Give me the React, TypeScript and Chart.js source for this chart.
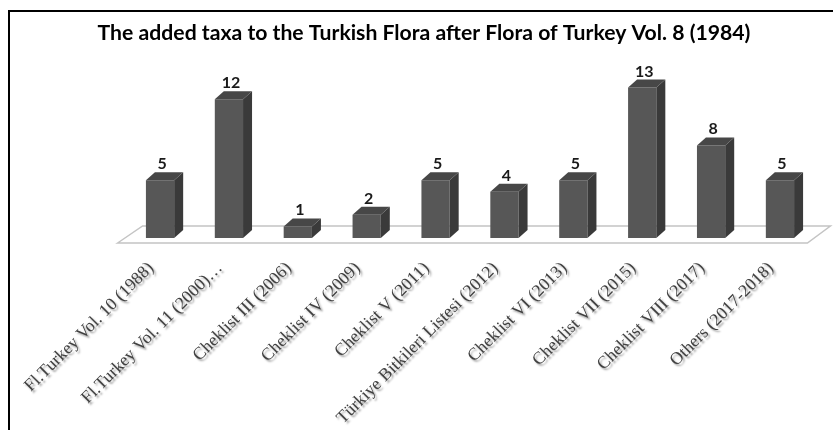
import React, { useEffect, useRef } from "react";
import { Chart, registerables } from "chart.js";

Chart.register(...registerables);

const titleText = "The added taxa to the Turkish Flora after Flora of Turkey Vol. 8 (1984)";
const categories = [
  "Fl.Turkey Vol. 10 (1988)",
  "Fl.Turkey Vol. 11 (2000)…",
  "Cheklist III (2006)",
  "Cheklist IV (2009)",
  "Cheklist V (2011)",
  "Türkiye Bitkileri Listesi (2012)",
  "Cheklist VI (2013)",
  "Cheklist VII (2015)",
  "Cheklist VIII (2017)",
  "Others (2017-2018)",
];
const addedTaxa = [5, 12, 1, 2, 5, 4, 5, 13, 8, 5];

const DX = 9;
const DY = -8;

const bar3d = {
  id: "bar3d",
  beforeDraw(chart: any) {
    const s = chart.scales.x;
    if (s && !s.__shadowPatched) {
      const orig = s.drawLabels.bind(s);
      s.drawLabels = (area: any) => {
        const c = chart.ctx;
        c.save();
        c.translate(-9, 0);
        c.shadowColor = "rgba(0,0,0,0.4)";
        c.shadowOffsetX = 2;
        c.shadowOffsetY = 2;
        c.shadowBlur = 2;
        orig(area);
        c.restore();
      };
      s.__shadowPatched = true;
    }
  },
  beforeDatasetsDraw(chart: any) {
    const ctx = chart.ctx;
    const { left, right } = chart.chartArea;
    const y0 = chart.scales.y.getPixelForValue(0);
    ctx.save();
    ctx.beginPath();
    ctx.moveTo(left - 8, y0 + 5);
    ctx.lineTo(left + 17, y0 - 12);
    ctx.lineTo(right + 16, y0 - 12);
    ctx.lineTo(right - 7, y0 + 5);
    ctx.closePath();
    ctx.fillStyle = "#ffffff";
    ctx.fill();
    ctx.strokeStyle = "#c4c4c4";
    ctx.lineWidth = 1.5;
    ctx.stroke();
    ctx.restore();
  },
  afterDatasetsDraw(chart: any) {
    const ctx = chart.ctx;
    const meta = chart.getDatasetMeta(0);
    const data = chart.data.datasets[0].data;
    ctx.save();
    meta.data.forEach((bar: any, i: number) => {
      const l = bar.x - bar.width / 2;
      const r = bar.x + bar.width / 2;
      const top = bar.y;
      const base = bar.base;
      ctx.beginPath();
      ctx.moveTo(r, top);
      ctx.lineTo(r + DX, top + DY);
      ctx.lineTo(r + DX, base + DY);
      ctx.lineTo(r, base);
      ctx.closePath();
      ctx.fillStyle = "#3a3a3a";
      ctx.fill();
      ctx.beginPath();
      ctx.moveTo(l, top);
      ctx.lineTo(l + DX, top + DY);
      ctx.lineTo(r + DX, top + DY);
      ctx.lineTo(r, top);
      ctx.closePath();
      ctx.fillStyle = "#474747";
      ctx.fill();
      ctx.fillStyle = "#1a1a1a";
      ctx.font = "bold 16px Lato, 'Liberation Sans', sans-serif";
      ctx.textAlign = "center";
      ctx.textBaseline = "alphabetic";
      ctx.fillText(String(data[i]), bar.x + 2, top + DY - 3);
    });
    ctx.restore();
  },
};

export default function App() {
  const ref = useRef<HTMLCanvasElement | null>(null);
  useEffect(() => {
    if (!ref.current) return;
    const chart = new Chart(ref.current, {
      type: "bar",
      data: {
        labels: categories,
        datasets: [
          {
            data: addedTaxa,
            backgroundColor: "#575757",
            borderWidth: 0,
            barPercentage: 0.41,
            categoryPercentage: 1,
            yAxisID: "y",
          },
        ],
      },
      options: {
        animation: false,
        responsive: false,
        layout: { padding: { left: 15, right: 0, top: 0, bottom: 0 } },
        plugins: {
          legend: { display: false },
          tooltip: { enabled: false },
          title: {
            display: true,
            text: titleText,
            color: "#000",
            font: { family: "Lato, 'Liberation Sans', sans-serif", size: 21.2, weight: "bold" },
            padding: { top: 20.3, bottom: 30.3 },
          },
        },
        scales: {
          x: {
            grid: { display: false, drawTicks: false },
            border: { display: false },
            ticks: {
              autoSkip: false,
              maxRotation: 45,
              minRotation: 45,
              padding: 20,
              color: "#404040",
              font: { family: "'Liberation Serif', 'Times New Roman', serif", size: 17.5 },
            },
            afterFit: (s: any) => {
              s.height = 192;
            },
          },
          y: {
            position: "left",
            min: 0,
            max: 14,
            grid: { display: false, drawTicks: false },
            border: { display: false },
            ticks: { display: false },
            afterFit: (s: any) => {
              s.width = 110.6;
            },
          },
          y2: {
            position: "right",
            min: 0,
            max: 1,
            grid: { display: false, drawTicks: false },
            border: { display: false },
            ticks: { display: false },
            afterFit: (s: any) => {
              s.width = 18.6;
            },
          },
        },
      },
      plugins: [bar3d],
    } as any);
    return () => chart.destroy();
  }, []);
  return (
    <div style={{ position: "fixed", left: 0, top: 0, width: 833, height: 430, background: "#fff", overflow: "hidden" }}>
      <div
        style={{
          position: "absolute",
          left: 8,
          top: 10,
          width: 840,
          height: 440,
          borderLeft: "2px solid #000",
          borderTop: "2px solid #000",
        }}
      />
      <canvas ref={ref} width={833} height={430} style={{ position: "absolute", left: 0, top: 0 }} />
    </div>
  );
}
